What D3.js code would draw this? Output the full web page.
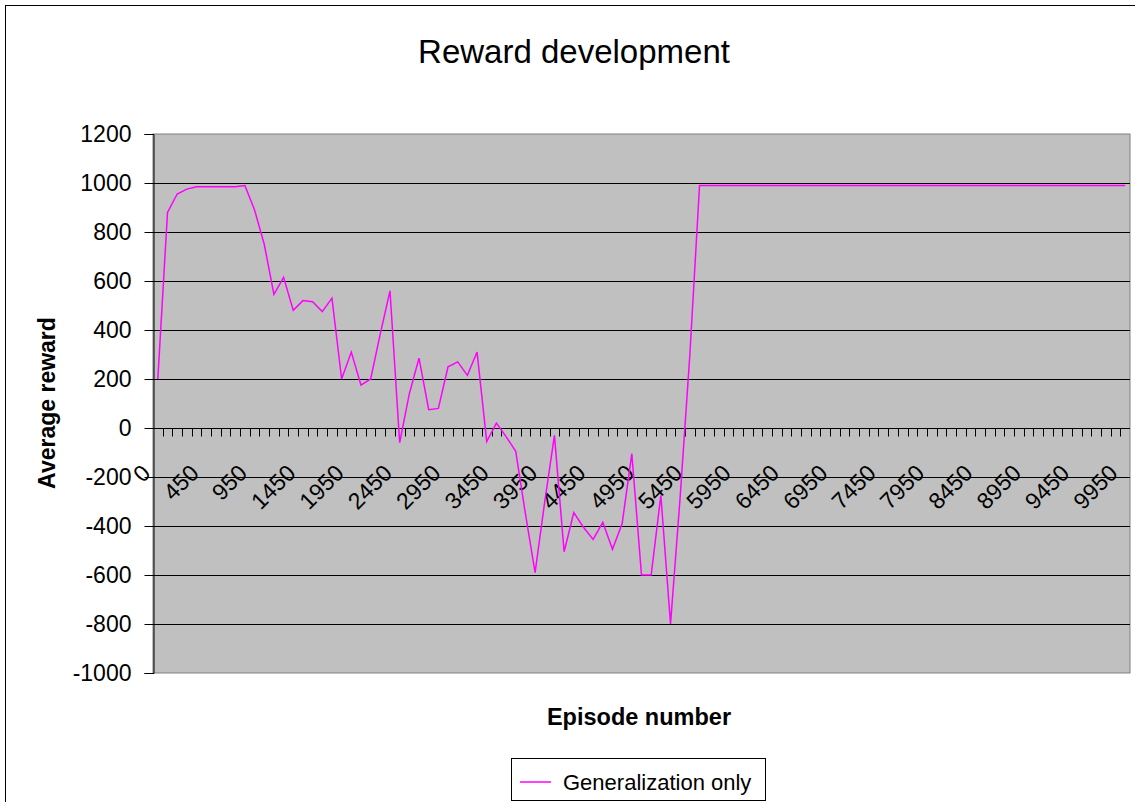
<!DOCTYPE html>
<html>
<head>
<meta charset="utf-8">
<script src="https://cdn.jsdelivr.net/npm/d3@7"></script>
<style>
  html, body { margin: 0; padding: 0; background: #fff; }
  svg { display: block; font-family: "Liberation Sans", Arial, sans-serif; }
</style>
</head>
<body>
<svg id="chart" width="1135" height="802"></svg>
<script>
// ---- data ----
const episodes = [0, 50, 150, 250, 350, 450, 550, 650, 750, 850, 950, 1050, 1150, 1250, 1350, 1450, 1550, 1650, 1750, 1850,
  1950, 2050, 2150, 2250, 2350, 2450, 2550, 2650, 2750, 2850, 2950, 3050, 3150, 3250, 3350, 3450, 3550, 3650, 3750, 3850,
  3950, 4050, 4150, 4250, 4350, 4450, 4550, 4650, 4750, 4850, 4950, 5050, 5150, 5250, 5350, 5450, 5550, 5650, 5750, 5850,
  5950, 6050, 6150, 6250, 6350, 6450, 6550, 6650, 6750, 6850, 6950, 7050, 7150, 7250, 7350, 7450, 7550, 7650, 7750, 7850,
  7950, 8050, 8150, 8250, 8350, 8450, 8550, 8650, 8750, 8850, 8950, 9050, 9150, 9250, 9350, 9450, 9550, 9650, 9750, 9850,
  9950];
const rewardGeneralization = [200, 880, 955, 975, 985, 985, 985, 985, 985, 990,
  890, 750, 545, 615, 480, 520, 515, 475, 530, 200,
  310, 175, 200, 385, 560, -60, 140, 285, 75, 80,
  250, 270, 215, 310, -55, 20, -35, -95, -350, -590,
  -300, -30, -505, -345, -405, -455, -385, -495, -390, -105,
  -600, -600, -275, -800, -280, 300, 990, 990, 990, 990,
  990, 990, 990, 990, 990, 990, 990, 990, 990, 990,
  990, 990, 990, 990, 990, 990, 990, 990, 990, 990,
  990, 990, 990, 990, 990, 990, 990, 990, 990, 990,
  990, 990, 990, 990, 990, 990, 990, 990, 990, 990,
  990];
const yTicks = [-1000, -800, -600, -400, -200, 0, 200, 400, 600, 800, 1000, 1200];
const xLabelEvery = 5;
const titleText = "Reward development";
const xTitle = "Episode number";
const yTitle = "Average reward";
const seriesName = "Generalization only";

// ---- layout ----
const svg = d3.select("#chart");
const plot = { left: 153, right: 1130, top: 134, bottom: 673 };
const FONT = '"Liberation Sans", Arial, sans-serif';

const x = d3.scaleBand().domain(d3.range(episodes.length)).range([plot.left, plot.right]).padding(0);
const y = d3.scaleLinear().domain([-1000, 1200]).range([plot.bottom, plot.top]);
const cx = i => x(i) + x.bandwidth() / 2;

// chart area border (top & left visible)
svg.append("rect").attr("x", 5.5).attr("y", 5.5).attr("width", 1140).attr("height", 810)
  .attr("fill", "#fff").attr("stroke", "#000").attr("stroke-width", 1);

// plot background
svg.append("rect").attr("x", plot.left).attr("y", plot.top)
  .attr("width", plot.right - plot.left).attr("height", plot.bottom - plot.top)
  .attr("fill", "#c0c0c0").attr("stroke", "#808080").attr("stroke-width", 1);

// gridlines
svg.append("g").selectAll("line").data(yTicks.filter(v => v > -1000 && v < 1200)).join("line")
  .attr("x1", plot.left).attr("x2", plot.right)
  .attr("y1", d => Math.round(y(d)) + 0.5).attr("y2", d => Math.round(y(d)) + 0.5)
  .attr("stroke", "#000").attr("stroke-width", 1);

// y axis
const yAxis = d3.axisLeft(y).tickValues(yTicks).tickSize(9).tickPadding(13).tickFormat(d3.format("d"));
const gy = svg.append("g").attr("transform", `translate(${plot.left + 0.5},0)`).call(yAxis);
gy.select(".domain").attr("stroke", "#000");
gy.selectAll(".tick line").attr("stroke", "#000");
gy.selectAll(".tick text").attr("font-family", FONT).attr("font-size", 23).attr("fill", "#000")
  .text(d => d < 0 ? "-" + Math.abs(d) : d);

// x axis at y=0: line + ticks between categories
const y0 = Math.round(y(0)) + 0.5;
const gx = svg.append("g");
gx.append("line").attr("x1", plot.left).attr("x2", plot.right).attr("y1", y0).attr("y2", y0)
  .attr("stroke", "#000").attr("stroke-width", 1.2);
gx.selectAll("line.tk").data(d3.range(1, episodes.length)).join("line").attr("class", "tk")
  .attr("x1", i => Math.round(x(i)) + 0.5).attr("x2", i => Math.round(x(i)) + 0.5)
  .attr("y1", y0).attr("y2", y0 + 8).attr("stroke", "#000").attr("stroke-width", 1);
gx.selectAll("text").data(d3.range(0, episodes.length, xLabelEvery)).join("text")
  .attr("transform", i => `translate(${cx(i) - 6},${y0 + 46}) rotate(-45)`)
  .attr("text-anchor", "end").attr("font-family", FONT).attr("font-size", 23).attr("fill", "#000")
  .text(i => episodes[i]);

// series line
const line = d3.line().x((d, i) => cx(i)).y(d => y(d));
svg.append("path").datum(rewardGeneralization)
  .attr("d", line).attr("fill", "none").attr("stroke", "#ff00ff").attr("stroke-width", 1.5)
  .attr("stroke-linejoin", "miter");

// titles
svg.append("text").attr("x", 574).attr("y", 63).attr("text-anchor", "middle")
  .attr("font-family", FONT).attr("font-size", 33).attr("fill", "#000").text(titleText);
svg.append("text").attr("x", 639).attr("y", 725).attr("text-anchor", "middle")
  .attr("font-family", FONT).attr("font-size", 23.5).attr("font-weight", "bold").attr("fill", "#000").text(xTitle);
svg.append("text").attr("transform", "translate(55,403) rotate(-90)").attr("text-anchor", "middle")
  .attr("font-family", FONT).attr("font-size", 23).attr("font-weight", "bold").attr("fill", "#000").text(yTitle);

// legend
const lg = svg.append("g");
lg.append("rect").attr("x", 511.5).attr("y", 758.5).attr("width", 254).attr("height", 42)
  .attr("fill", "#fff").attr("stroke", "#000").attr("stroke-width", 1);
lg.append("line").attr("x1", 520).attr("x2", 551).attr("y1", 782).attr("y2", 782)
  .attr("stroke", "#ff00ff").attr("stroke-width", 1.5);
lg.append("text").attr("x", 563).attr("y", 790).attr("font-family", FONT).attr("font-size", 22)
  .attr("fill", "#000").text(seriesName);
</script>
</body>
</html>
